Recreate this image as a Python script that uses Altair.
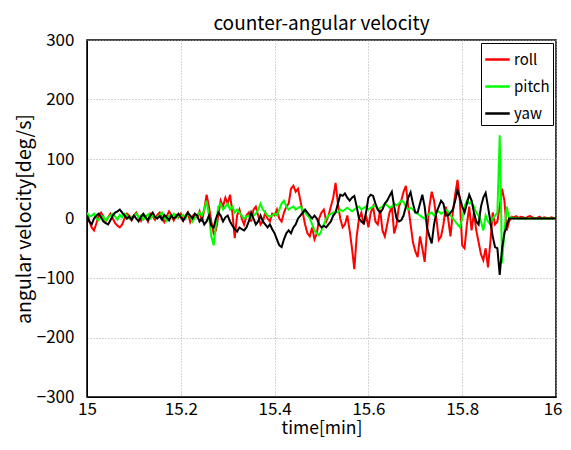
import altair as alt
import pandas as pd

# time axis: 15 min + i*0.005 min
t0 = 15.0
dt = 0.005

roll = [
    8, -5, -15, -20, -8, 5, 10, 3, -5, 2,
    8, 0, -8, -12, -15, -10, 0, 8, 5, -3,
    5, 10, 2, -4, 6, 3, -5, 8, 4, -2,
    6, 10, 0, -6, 4, 12, 5, -3, 6, 2,
    8, -3, 5, 10, -6, 4, 8, 2, 12, -5,
    15, 40, 20, -5, -25, -20, 5, 30, 20, 35,
    25, 40, 10, -33, 5, 15, 0, -10, 5, 10,
    -5, 15, 20, 5, -10, -5, 10, 0, -5, 8,
    5, 15, 0, -5, 10, 20, 25, 50, 55, 45,
    50, 30, 10, -10, -25, -30, -15, -35, -25, 0,
    10, 15, -5, 5, 20, 35, 60, 25, 0, -15,
    -10, 5, -20, -50, -85, -30, 0, 10, -10, 5,
    -15, 10, 20, -5, -10, 15, -20, -30, -10, 10,
    20, -25, -10, 20, 30, 45, 55, 20, -10, -40,
    -55, -65, -30, -50, -73, -20, 20, 45, 30, 0,
    -36, -30, -10, 20, 0, -30, 10, 40, 65, 30,
    -45, -50, -10, 20, -20, 10, -20, -40, -60, -70,
    -50, -82, -40, 10, -10, -5, 20, 50, 30, -20,
    -5, 3, 2, 4, 1, 3, 2, 0, 3, 4,
    2, 0, 1, 3, 0, 2, 1, 0, 2, 1, 0,
]

pitch = [
    10, 3, 5, 8, 0, -3, 5, 3, -4, 2,
    5, 8, 3, -2, 6, 2, 8, 5, 0, 3,
    4, 8, 2, 5, -2, 3, 7, 0, 5, 2,
    3, 6, 10, 2, -4, 5, 3, 8, 1, 4,
    3, 6, 0, 8, 4, -5, 2, 6, 10, 5,
    15, 30, 5, -30, -45, -10, 20, 25, 15, 20,
    25, 15, 20, 10, 15, 10, 5, 0, 3, 5,
    0, 5, 8, 15, 25, 15, 10, 5, 3, 5,
    8, 5, 15, 25, 30, 20, 15, 18, 20, 15,
    18, 20, 15, 10, 5, 0, -10, -20, -25, -28,
    -20, -10, 0, 5, 8, 10, 12, 10, 15, 12,
    15, 18, 15, 12, 15, 18, 20, 15, 18, 20,
    15, 18, 20, 22, 15, 18, 20, 25, 22, 18,
    20, 25, 22, 25, 30, 28, 20, 15, 18, 15,
    10, 8, 5, 2, 0, 5, 8, 10, 5, 10,
    12, 8, 10, 15, 12, 5, 0, -5, -10, -15,
    0, 20, 30, 25, 28, 20, 10, 5, -5, -20,
    5, -5, -10, 0, 5, 10, 140, -75, -20, 20,
    0, 2, 0, 1, 0, 0, 0, 0, 0, 0,
    0, 0, 0, 0, 0, 0, 0, 0, 0, 0, 0,
]

yaw = [
    5, -5, -10, 0, 5, 8, 2, -5, -8, -10,
    -3, 5, 10, 12, 15, 10, 5, 0, 3, -2,
    5, 0, -5, 3, 8, 2, -3, 5, 10, 3,
    0, 4, -2, 6, 2, -3, 5, 0, 3, 8,
    2, -4, 3, 10, 5, 0, 8, 5, -5, 0,
    -10, -5, 5, -12, -15, 0, 10, 5, -5, 2,
    5, -5, -12, -18, -22, -15, -18, -20, -15, -5,
    10, 0, -10, -5, 5, -5, -10, -15, -10, -18,
    -25, -35, -45, -48, -35, -25, -20, -25, -15, -10,
    0, 5, 10, 15, 10, 5, 0, 5, 0, -10,
    -15, -12, -15, -10, -5, 5, 10, 25, 40, 38,
    42, 35, 30, 35, 38, 20, 0, -5, -8, 10,
    35, 40, 38, 25, 15, 10, 15, 25, 30, 38,
    45, 20, 0, -5, -3, 5, 20, 35, 44, 25,
    10, 10, 25, 40, 20, -15, -30, -42, -10, 10,
    20, 30, 25, 5, 5, 10, 15, 30, 47, 35,
    20, 10, 25, 40, 30, 10, -5, -10, 20, 35,
    43, 20, -5, -30, -48, -50, -95, -50, -25, -12,
    0, 0, 0, 0, 0, 0, 0, 0, 0, 0,
    0, 0, 0, 0, 0, 0, 0, 0, 0, 0, 0,
]

series_names = ["roll", "pitch", "yaw"]
series_colors = ["#ff0000", "#00ff00", "#000000"]
x_ticks = [15, 15.2, 15.4, 15.6, 15.8, 16]
y_ticks = [-300, -200, -100, 0, 100, 200, 300]
chart_title = "counter-angular velocity"

rows = []
for name, vals in zip(series_names, [roll, pitch, yaw]):
    for i, v in enumerate(vals):
        rows.append({"time": round(t0 + i * dt, 4), "value": v, "series": name, "order": i})
df = pd.DataFrame(rows)

FONT = "Noto Sans CJK JP"

color_scale = alt.Scale(domain=series_names, range=series_colors)

base = alt.Chart(df)

layers = []
for name in series_names:
    layers.append(
        base.transform_filter(alt.datum.series == name)
        .mark_line(strokeWidth=2, clip=True)
        .encode(
            x=alt.X("time:Q",
                    scale=alt.Scale(domain=[15, 16], nice=False, zero=False),
                    axis=alt.Axis(values=x_ticks, title="time[min]", format="~g",
                                  grid=True, gridDash=[1, 2], gridColor="#aaaaaa",
                                  labelFontSize=17, titleFontSize=17.5, labelFont=FONT, titleFont=FONT,
                                  labelColor="black", titleColor="black", domainColor="black",
                                  tickColor="black", tickSize=0, labelPadding=4, titlePadding=2,
                                  labelFlush=False, titleFontWeight="normal",
                                  labelAlign={"condition": {"test": "datum.value == 16", "value": "right"},
                                              "value": "center"},
                                  labelOffset={"condition": {"test": "datum.value == 16", "value": 6},
                                               "value": 0})),
            y=alt.Y("value:Q",
                    scale=alt.Scale(domain=[-300, 300], nice=False),
                    axis=alt.Axis(values=y_ticks, title="angular velocity[deg/s]",
                                  grid=True, gridDash=[1, 2], gridColor="#aaaaaa",
                                  labelFontSize=17, titleFontSize=19.5, labelFont=FONT, titleFont=FONT,
                                  labelColor="black", titleColor="black", domainColor="black",
                                  tickColor="black", tickSize=0, labelPadding=13, titlePadding=2,
                                  labelFlush=False, titleFontWeight="normal")),
            color=alt.Color("series:N", scale=color_scale,
                            legend=alt.Legend(title=None, orient="top-right", offset=3,
                                              symbolType="stroke", symbolStrokeWidth=2.5,
                                              symbolSize=600, labelFont=FONT, labelFontSize=15,
                                              labelColor="black", strokeColor="black",
                                              fillColor="white", padding=3, rowPadding=5,
                                              labelOffset=3, labelBaseline="middle")),
            order="order:Q",
        )
    )

title_layer = alt.Chart(pd.DataFrame({"t": [chart_title]})).mark_text(
    font=FONT, fontSize=19, color="black", baseline="alphabetic", align="center", clip=False
).encode(x=alt.value(234.5), y=alt.value(-10), text="t:N")

chart = alt.layer(*layers, title_layer).properties(
    width=469,
    height=357,
    autosize=alt.AutoSizeParams(type="none"),
    padding={"left": 79, "top": 32, "right": 7, "bottom": 45},
).configure_view(stroke="black", strokeWidth=1.5)

chart.save("out.html", embed_options={"renderer": "svg", "actions": False})
